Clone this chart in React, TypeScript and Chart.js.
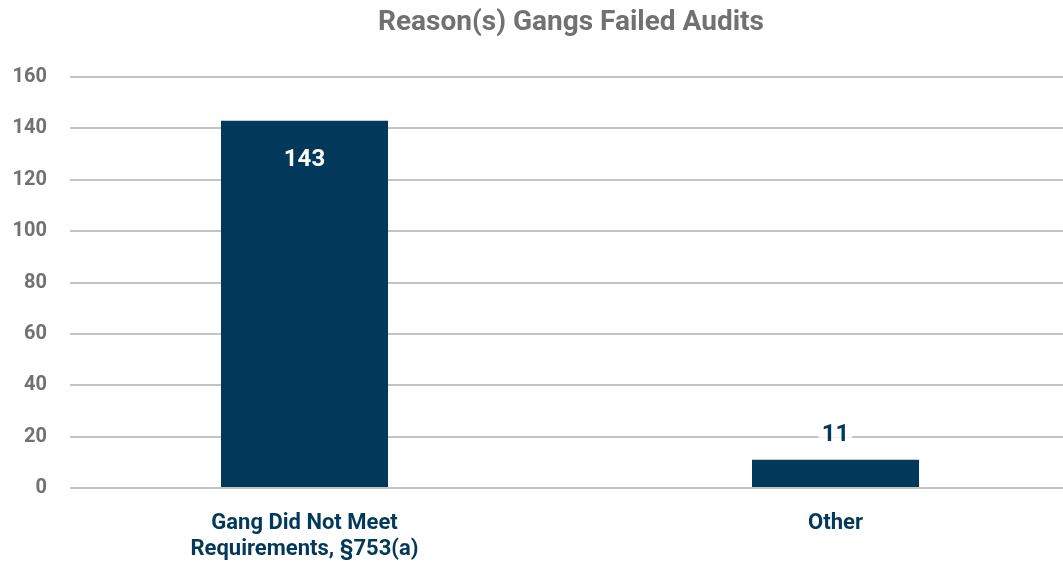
import React, { useEffect, useRef } from "react";
import { Chart, registerables } from "chart.js";

Chart.register(...registerables);

const TITLE = "Reason(s) Gangs Failed Audits";
const categories: string[][] = [["Gang Did Not Meet", "Requirements, §753(a)"], ["Other"]];
const values: number[] = [143, 11];
const yTicks: number[] = [0, 20, 40, 60, 80, 100, 120, 140, 160];

const NAVY = "#02395A";
const GRAY = "#717171";
const FONT = "Roboto";

const labelPlugin = {
  id: "barLabels",
  afterDatasetsDraw(chart: any) {
    const ctx = chart.ctx;
    const meta = chart.getDatasetMeta(0);
    ctx.save();
    ctx.font = `bold 24px ${FONT}`;
    ctx.textAlign = "center";
    ctx.textBaseline = "middle";
    meta.data.forEach((bar: any, i: number) => {
      const h = bar.base - bar.y;
      const txt = String(values[i]);
      if (h > 60) {
        ctx.fillStyle = "#ffffff";
        ctx.fillText(txt, bar.x, bar.y + 39);
      } else {
        const w = ctx.measureText(txt).width;
        const ty = bar.y - 25;
        ctx.fillStyle = "#ffffff";
        ctx.fillRect(bar.x - w / 2 - 3, ty - 3, w + 6, 6);
        ctx.fillStyle = NAVY;
        ctx.fillText(txt, bar.x, ty);
      }
    });
    ctx.restore();
  },
};

const titlePlugin = {
  id: "customTitle",
  afterDraw(chart: any) {
    const ctx = chart.ctx;
    ctx.save();
    ctx.font = `bold 28px ${FONT}`;
    ctx.fillStyle = GRAY;
    ctx.textAlign = "center";
    ctx.textBaseline = "middle";
    ctx.fillText(TITLE, 571, 23);
    ctx.restore();
  },
};

export default function App() {
  const ref = useRef<HTMLCanvasElement>(null);
  useEffect(() => {
    if (!ref.current) return;
    const chart = new Chart(ref.current, {
      type: "bar",
      data: {
        datasets: [
          {
            data: values.map((v, i) => ({ x: i, y: v })),
            backgroundColor: NAVY,
            barPercentage: 0.3145,
            categoryPercentage: 1,
          },
        ],
      },
      options: {
        animation: false,
        responsive: false,
        layout: { padding: { top: 77, right: 0, left: 0, bottom: 0 } },
        plugins: { legend: { display: false }, tooltip: { enabled: false }, title: { display: false } },
        scales: {
          x: {
            type: "linear",
            offset: false,
            min: -0.4416,
            max: 1.4284,
            afterBuildTicks: (scale: any) => {
              scale.ticks = categories.map((_, i) => ({ value: i }));
            },
            afterFit: (scale: any) => {
              scale.height = 75;
            },
            ticks: {
              autoSkip: false,
              maxRotation: 0,
              padding: 15,
              color: NAVY,
              font: { family: FONT, size: 22, weight: "bold", lineHeight: 1.18 },
              callback: (v: any) => categories[Math.round(Number(v))] ?? "",
            },
            grid: { display: false },
            border: { display: false },
          },
          y: {
            min: 0,
            max: 160,
            afterBuildTicks: (scale: any) => {
              scale.ticks = yTicks.map((v) => ({ value: v }));
            },
            afterFit: (scale: any) => {
              scale.width = 70;
            },
            ticks: {
              padding: 23,
              color: GRAY,
              font: { family: FONT, size: 20, weight: "bold" },
            },
            grid: { color: "#c4c4c4", lineWidth: 2, drawTicks: false },
            border: { display: false },
          },
        },
      },
      plugins: [labelPlugin, titlePlugin],
    } as any);
    return () => chart.destroy();
  }, []);
  return (
    <div style={{ position: "absolute", left: 0, top: 0, width: 1063, height: 563, background: "#fff" }}>
      <canvas ref={ref} width={1063} height={563} />
    </div>
  );
}
